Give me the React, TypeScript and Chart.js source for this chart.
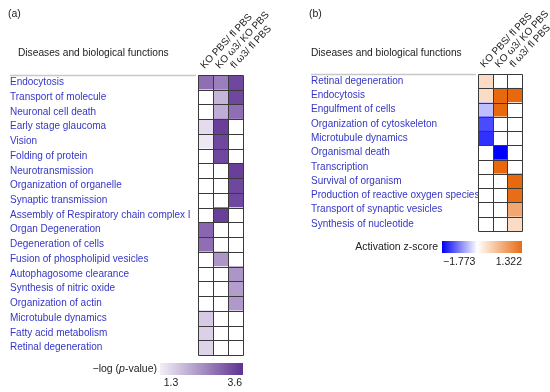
import { useEffect, useRef } from 'react';
import { Chart, registerables } from 'chart.js';

Chart.register(...registerables);

// ---------- data ----------
const columnLabels = ['KO PBS/ fl PBS', 'KO ω3/ KO PBS', 'fl ω3/ fl PBS'];

const leftRows = [
  'Endocytosis',
  'Transport of molecule',
  'Neuronal cell death',
  'Early stage glaucoma',
  'Vision',
  'Folding of protein',
  'Neurotransmission',
  'Organization of organelle',
  'Synaptic transmission',
  'Assembly of Respiratory chain complex I',
  'Organ Degeneration',
  'Degeneration of cells',
  'Fusion of phospholipid vesicles',
  'Autophagosome clearance',
  'Synthesis of nitric oxide',
  'Organization of actin',
  'Microtubule dynamics',
  'Fatty acid metabolism',
  'Retinal degeneration',
];
// -log(p-value); null = not significant (white)
const leftKoPbsVsFlPbs = [2.9, null, null, 1.5, 1.35, null, null, null, null, null, 3.0, 2.9, null, null, null, null, 1.75, 1.65, 1.6];
const leftKoW3VsKoPbs = [2.7, 2.0, 2.1, 3.5, 3.4, 3.4, null, null, null, 3.5, null, null, 2.4, null, null, null, null, null, null];
const leftFlW3VsFlPbs = [3.4, 3.4, 2.9, null, null, null, 3.5, 3.4, 3.4, null, null, null, null, 2.4, 2.3, 2.35, null, null, null];
const pTicks = [1.3, 3.6];

const rightRows = [
  'Retinal degeneration',
  'Endocytosis',
  'Engulfment of cells',
  'Organization of cytoskeleton',
  'Microtubule dynamics',
  'Organismal death',
  'Transcription',
  'Survival of organism',
  'Production of reactive oxygen species',
  'Transport of synaptic vesicles',
  'Synthesis of nucleotide',
];
// activation z-score; null = white
const rightKoPbsVsFlPbs = [0.2, 0.2, -0.3, -1.2, -1.4, null, null, null, null, null, null];
const rightKoW3VsKoPbs = [null, 1.3, 1.3, null, null, -1.773, 1.3, null, null, null, null];
const rightFlW3VsFlPbs = [null, 1.3, null, null, null, null, null, 1.3, 1.25, 0.7, 0.2];
const zTicks = [-1.773, 1.322];

// ---------- styling ----------
const FONT = "'Liberation Sans', Arial, sans-serif";
const LABEL_COLOR = '#3636c6';
const TEXT_COLOR = '#222222';
const W = 275;
const H = 392;

type RGB = [number, number, number];
const lerp = (a: RGB, b: RGB, t: number): string => {
  const c = a.map((v, i) => Math.round(v + (b[i] - v) * Math.max(0, Math.min(1, t))));
  return `rgb(${c[0]},${c[1]},${c[2]})`;
};
const P_LOW: RGB = [240, 236, 246];
const P_HIGH: RGB = [100, 55, 150];
const pColor = (v: number | null) =>
  v == null ? '#ffffff' : lerp(P_LOW, P_HIGH, (v - pTicks[0]) / (pTicks[1] - pTicks[0]));
const WHITE: RGB = [255, 255, 255];
const BLUE: RGB = [0, 0, 255];
const ORANGE: RGB = [232, 102, 10];
const zColor = (v: number | null) => {
  if (v == null) return '#ffffff';
  if (v < 0) return lerp(WHITE, BLUE, 0.1 + 0.9 * (v / zTicks[0]));
  return lerp(WHITE, ORANGE, 0.1 + 0.9 * (v / zTicks[1]));
};

interface PanelLayout {
  letter: string;
  letterX: number;
  labelX: number;
  headerX: number;
  plotLeft: number;
  plotRight: number;
  plotTop: number;
  plotBottom: number;
  drawLegend: (ctx: CanvasRenderingContext2D) => void;
}

const drawLeftLegend = (ctx: CanvasRenderingContext2D) => {
  const x0 = 160, x1 = 243, y0 = 363, y1 = 375;
  const g = ctx.createLinearGradient(x0, 0, x1, 0);
  g.addColorStop(0, 'rgb(242,239,247)');
  g.addColorStop(1, 'rgb(94,50,144)');
  ctx.fillStyle = g;
  ctx.fillRect(x0, y0, x1 - x0, y1 - y0);
  ctx.fillStyle = TEXT_COLOR;
  ctx.textBaseline = 'middle';
  const fs = 10.5;
  const a = '−log (', b = 'p', c = '-value)';
  ctx.font = `${fs}px ${FONT}`;
  const wa = ctx.measureText(a).width;
  const wc = ctx.measureText(c).width;
  ctx.font = `italic ${fs}px ${FONT}`;
  const wb = ctx.measureText(b).width;
  const end = 157;
  const start = end - wa - wb - wc;
  ctx.textAlign = 'left';
  ctx.font = `${fs}px ${FONT}`;
  ctx.fillText(a, start, 369);
  ctx.font = `italic ${fs}px ${FONT}`;
  ctx.fillText(b, start + wa, 369);
  ctx.font = `${fs}px ${FONT}`;
  ctx.fillText(c, start + wa + wb, 369);
  ctx.textAlign = 'center';
  ctx.fillText(pTicks[0].toFixed(1), 171, 383);
  ctx.textAlign = 'right';
  ctx.fillText(pTicks[1].toFixed(1), 242, 383);
};

const drawRightLegend = (ctx: CanvasRenderingContext2D) => {
  const x0 = 167, x1 = 247, y0 = 241, y1 = 253;
  const g = ctx.createLinearGradient(x0, 0, x1, 0);
  g.addColorStop(0, 'rgb(0,0,240)');
  g.addColorStop(0.44, 'rgb(255,255,255)');
  g.addColorStop(0.55, 'rgb(252,226,206)');
  g.addColorStop(1, 'rgb(230,108,20)');
  ctx.fillStyle = g;
  ctx.fillRect(x0, y0, x1 - x0, y1 - y0);
  ctx.fillStyle = TEXT_COLOR;
  ctx.textBaseline = 'middle';
  ctx.font = `10.5px ${FONT}`;
  ctx.textAlign = 'right';
  ctx.fillText('Activation z-score', 163, 247);
  ctx.textAlign = 'left';
  ctx.fillText('−' + Math.abs(zTicks[0]).toFixed(3), 168, 262);
  ctx.textAlign = 'right';
  ctx.fillText(zTicks[1].toFixed(3), 247, 262);
};

const leftLayout: PanelLayout = {
  letter: '(a)', letterX: 8, labelX: 10, headerX: 18,
  plotLeft: 198, plotRight: 243, plotTop: 75, plotBottom: 355,
  drawLegend: drawLeftLegend,
};
const rightLayout: PanelLayout = {
  letter: '(b)', letterX: 34, labelX: 36, headerX: 36,
  plotLeft: 203, plotRight: 247, plotTop: 74, plotBottom: 231,
  drawLegend: drawRightLegend,
};

function makePanel(
  canvas: HTMLCanvasElement,
  rows: string[],
  cols: (number | null)[][],
  colorFn: (v: number | null) => string,
  L: PanelLayout,
) {
  const gridPlugin = {
    id: 'cellGridAndDecor',
    afterDatasetsDraw(chart: any) {
      const { ctx, chartArea, scales } = chart;
      const x = scales.x, y = scales.y;
      ctx.save();
      ctx.strokeStyle = '#3a3a3a';
      ctx.lineWidth = 1;
      ctx.beginPath();
      for (let c = 0; c <= cols.length; c++) {
        const px = Math.round(x.getPixelForValue(c)) + 0.5;
        ctx.moveTo(px, Math.round(chartArea.top) + 0.5);
        ctx.lineTo(px, Math.round(chartArea.bottom) + 0.5);
      }
      for (let r = 0; r <= rows.length; r++) {
        const py = Math.round(y.getPixelForValue(r - 0.5)) + 0.5;
        ctx.moveTo(Math.round(chartArea.left) + 0.5, py);
        ctx.lineTo(Math.round(chartArea.right) + 0.5, py);
      }
      ctx.stroke();
      ctx.restore();
    },
    afterDraw(chart: any) {
      const { ctx, chartArea, scales } = chart;
      const x = scales.x;
      ctx.save();
      // header separator line
      ctx.strokeStyle = '#c8c8c8';
      ctx.lineWidth = 1.5;
      ctx.beginPath();
      ctx.moveTo(L.labelX, chartArea.top + 0.5);
      ctx.lineTo(chartArea.left - 2, chartArea.top + 0.5);
      ctx.stroke();
      // panel letter
      ctx.fillStyle = TEXT_COLOR;
      ctx.font = `10.5px ${FONT}`;
      ctx.textAlign = 'left';
      ctx.textBaseline = 'middle';
      ctx.fillText(L.letter, L.letterX, 14);
      // header
      ctx.font = `10.2px ${FONT}`;
      ctx.fillText('Diseases and biological functions', L.headerX, 53);
      // rotated column labels
      ctx.font = `10px ${FONT}`;
      for (let c = 0; c < columnLabels.length; c++) {
        const cx = x.getPixelForValue(c + 0.5);
        ctx.save();
        ctx.translate(cx - 3, chartArea.top - 8);
        ctx.rotate(-Math.PI * 47 / 180);
        ctx.textAlign = 'left';
        ctx.textBaseline = 'middle';
        ctx.fillText(columnLabels[c], 0, 0);
        ctx.restore();
      }
      L.drawLegend(ctx);
      ctx.restore();
    },
  };

  return new Chart(canvas, {
    type: 'bar',
    data: {
      labels: rows,
      datasets: cols.map((vals, c) => ({
        label: columnLabels[c],
        data: vals.map(() => [c, c + 1]) as any,
        backgroundColor: vals.map((v) => colorFn(v)),
        borderWidth: 0,
        barPercentage: 1,
        categoryPercentage: 1,
        grouped: false,
      })),
    },
    options: {
      indexAxis: 'y',
      animation: false,
      responsive: false,
      maintainAspectRatio: false,
      events: [],
      layout: {
        padding: {
          left: L.labelX,
          right: W - L.plotRight,
          top: L.plotTop,
          bottom: H - L.plotBottom,
        },
      },
      plugins: { legend: { display: false }, tooltip: { enabled: false } },
      scales: {
        x: { type: 'linear', min: 0, max: cols.length, display: false },
        y: {
          type: 'category',
          offset: true,
          grid: { display: false },
          border: { display: false },
          ticks: {
            autoSkip: false,
            crossAlign: 'far',
            padding: 0,
            color: LABEL_COLOR,
            font: { family: FONT, size: 10 },
          },
          afterFit: (scale: any) => {
            scale.width = L.plotLeft - L.labelX;
          },
        },
      },
    },
    plugins: [gridPlugin],
  } as any);
}

export default function App() {
  const leftRef = useRef<HTMLCanvasElement>(null);
  const rightRef = useRef<HTMLCanvasElement>(null);

  useEffect(() => {
    const a = makePanel(
      leftRef.current!,
      leftRows,
      [leftKoPbsVsFlPbs, leftKoW3VsKoPbs, leftFlW3VsFlPbs],
      pColor,
      leftLayout,
    );
    const b = makePanel(
      rightRef.current!,
      rightRows,
      [rightKoPbsVsFlPbs, rightKoW3VsKoPbs, rightFlW3VsFlPbs],
      zColor,
      rightLayout,
    );
    return () => {
      a.destroy();
      b.destroy();
    };
  }, []);

  return (
    <div style={{ position: 'absolute', left: 0, top: 0, width: 550, height: 392, background: '#fff' }}>
      <canvas ref={leftRef} width={W} height={H} style={{ position: 'absolute', left: 0, top: 0, width: W, height: H }} />
      <canvas ref={rightRef} width={W} height={H} style={{ position: 'absolute', left: 275, top: 0, width: W, height: H }} />
    </div>
  );
}
